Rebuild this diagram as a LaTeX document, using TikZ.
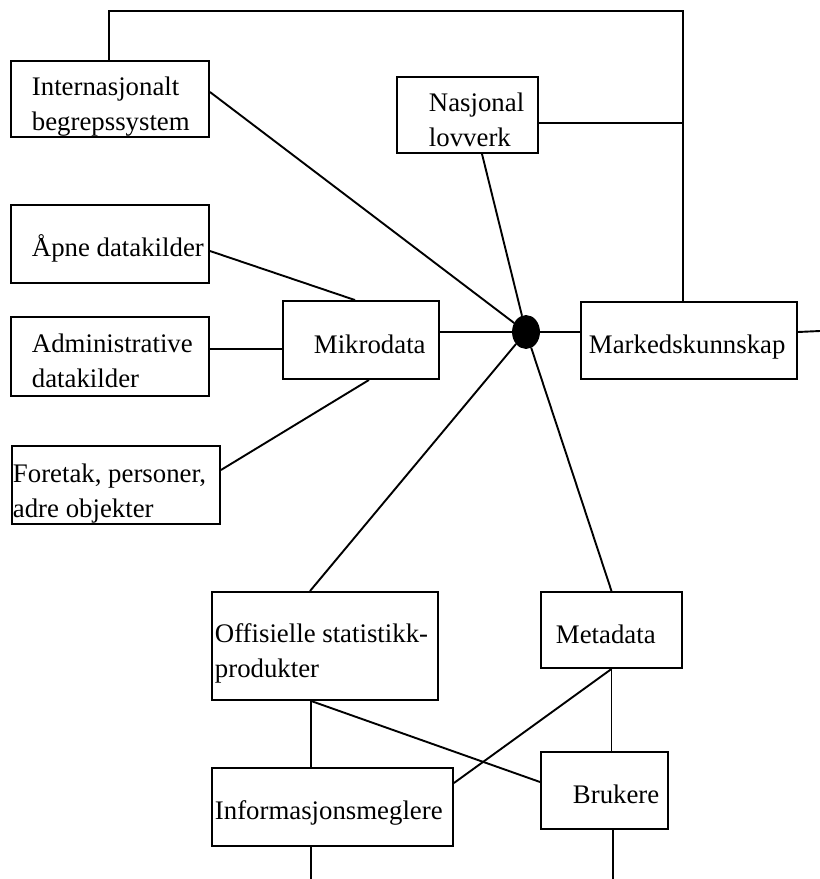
\documentclass[tikz,border=0pt]{standalone}
\usepackage{fontspec}
\setmainfont{Liberation Serif}
\usetikzlibrary{shapes.geometric}
\begin{document}
\begin{tikzpicture}[x=1pt,y=-1pt,line width=1.9pt,
  box/.style={draw,rectangle,line width=1.9pt,inner sep=0pt},
  lbl/.style={anchor=base west,inner sep=0pt,align=left,
              font=\fontsize{26.8}{35}\selectfont}]
\useasboundingbox (0,0) rectangle (820,879);

% boxes
\node[box,minimum width=198,minimum height=76] (intl) at (110,99) {};
\node[box,minimum width=141,minimum height=76] (nas)  at (467.5,115) {};
\node[box,minimum width=198,minimum height=78] (apne) at (110,244) {};
\node[box,minimum width=198,minimum height=79] (adm)  at (110,356.5) {};
\node[box,minimum width=156,minimum height=78] (mik)  at (361,340) {};
\node[box,minimum width=216,minimum height=77] (mark) at (689,340.5) {};
\node[box,minimum width=208,minimum height=78] (fore) at (116,485) {};
\node[box,minimum width=226,minimum height=108] (off) at (325,646) {};
\node[box,minimum width=141,minimum height=76] (meta) at (611.5,630) {};
\node[box,minimum width=241,minimum height=78] (info) at (332.5,807) {};
\node[box,minimum width=127,minimum height=77] (bruk) at (604.5,790.5) {};

% labels (base anchor sits on the last line)
\node[lbl] (tintl) at (31,130)  {Internasjonalt\\begrepssystem};
\node[lbl] (tnas)  at (428,146) {Nasjonal\\lovverk};
\node[lbl] (tapne) at (31,256) {Åpne datakilder};
\node[lbl] (tadm)  at (31,387) {Administrative\\datakilder};
\node[lbl] (tmik)  at (313,353) {Mikrodata};
\node[lbl] (tmark) at (588,353) {Markedskunnskap};
\node[lbl] (tfore) at (12,517) {Foretak, personer,\\adre objekter};
\node[lbl] (toff)  at (214,677) {Offisielle statistikk-\\produkter};
\node[lbl] (tmeta) at (555,643) {Metadata};
\node[lbl] (tinfo) at (214,819) {Informasjonsmeglere};
\node[lbl] (tbruk) at (572,803) {Brukere};

% hub
\node[ellipse,fill=black,draw=black,minimum width=26,minimum height=32,inner sep=0pt] (hub) at (526,332) {};

% free ends
\coordinate (tl) at (109,11);
\coordinate (tr) at (683,11);
\coordinate (eR) at (820,331);
\coordinate (eB1) at (311,879);
\coordinate (eB2) at (613,879);

% frame line across the top
\draw ([xshift=-1pt]intl.north) |- (tr) -- (tr |- mark.north);
\draw ([yshift=-8pt]nas.east) coordinate (n1) -- (n1 -| tr);

% spokes into the hub
\draw ([yshift=7pt]intl.east) -- (hub);
\draw ([xshift=14.5pt]nas.south) -- (hub);
\draw (hub -| mik.east) -- (hub);
\draw (hub) -- (hub -| mark.west);
\draw (hub) -- ([xshift=-15pt]off.north);
\draw (hub) -- (meta.north);

% sources into Mikrodata
\draw ([yshift=-7pt]apne.east) -- ([xshift=-6pt]mik.north);
\draw ([yshift=7.5pt]adm.east) coordinate (a1) -- (a1 -| mik.west);
\draw ([yshift=15pt]fore.east) -- ([xshift=8pt]mik.south);

% right edge
\draw ([yshift=8.5pt]mark.east) -- (eR);

% lower part
\draw ([xshift=-14pt]off.south) coordinate (o1) -- (o1 |- info.north);
\draw (o1) -- ([yshift=8.5pt]bruk.west);
\draw (meta.south) -- (meta.south |- bruk.north);
\draw (meta.south) -- ([yshift=24pt]info.east);
\draw (eB1 |- info.south) -- (eB1);
\draw (eB2 |- bruk.south) -- (eB2);
\end{tikzpicture}
\end{document}
